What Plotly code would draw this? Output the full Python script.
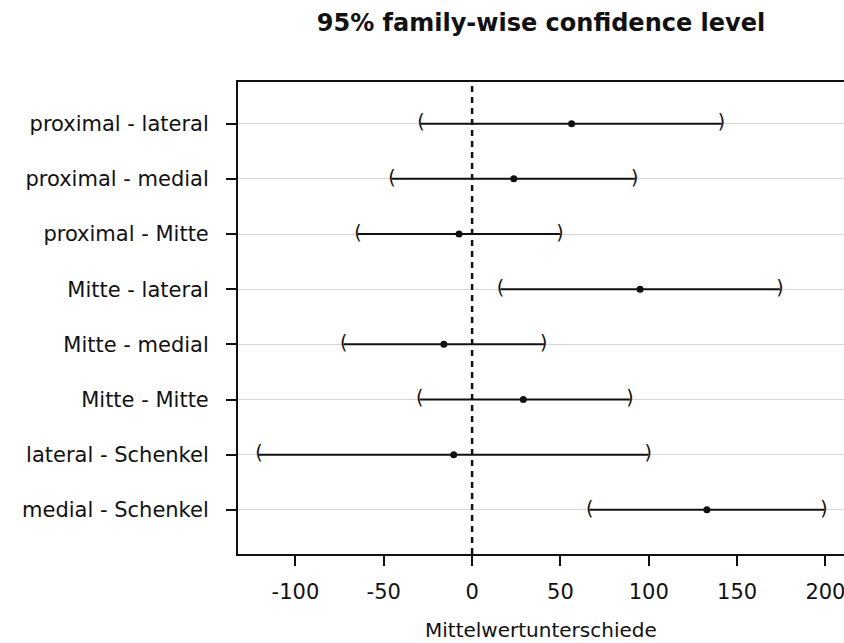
import plotly.graph_objects as go

# Pairwise comparisons (Tukey HSD), listed top to bottom
comparisons = [
    "proximal - lateral",
    "proximal - medial",
    "proximal - Mitte",
    "Mitte - lateral",
    "Mitte - medial",
    "Mitte - Mitte",
    "lateral - Schenkel",
    "medial - Schenkel",
]
diff = [56.3, 23.6, -7.4, 95.1, -16.0, 29.0, -10.4, 132.9]
lwr = [-29.0, -45.3, -64.6, 16.1, -72.6, -29.6, -120.6, 66.6]
upr = [141.2, 92.1, 49.7, 174.2, 40.6, 89.3, 99.7, 199.2]

x_ticks = [-100, -50, 0, 50, 100, 150, 200]

n = len(comparisons)
ypos = [n - i for i in range(n)]

FONT = "DejaVu Sans"
INK = "#111111"

fig = go.Figure()

# confidence interval segments
for lo, hi, y in zip(lwr, upr, ypos):
    fig.add_trace(go.Scatter(
        x=[lo, hi], y=[y, y], mode="lines",
        line=dict(color=INK, width=2), hoverinfo="skip", showlegend=False,
    ))

# interval end brackets
fig.add_trace(go.Scatter(
    x=lwr, y=ypos, mode="text", text=["("] * n, textposition="middle center",
    textfont=dict(family=FONT, size=19, color=INK), showlegend=False,
))
fig.add_trace(go.Scatter(
    x=upr, y=ypos, mode="text", text=[")"] * n, textposition="middle center",
    textfont=dict(family=FONT, size=19, color=INK), showlegend=False,
))

# mean differences
fig.add_trace(go.Scatter(
    x=diff, y=ypos, mode="markers",
    marker=dict(color=INK, size=7), showlegend=False,
))

# reference line at zero
fig.add_shape(type="line", x0=0, x1=0, xref="x", y0=0, y1=1, yref="paper",
              line=dict(color=INK, width=2.5, dash="6px,5px"))

fig.update_layout(
    width=844, height=643,
    margin=dict(l=238, r=0, t=82, b=89),
    paper_bgcolor="white", plot_bgcolor="white",
    font=dict(family=FONT, size=21, color=INK),
    title=dict(
        text="<b>95% family-wise confidence level</b>",
        font=dict(family=FONT, size=24, color=INK),
        x=541 / 844, xanchor="center", xref="container",
        y=1 - 23 / 643, yanchor="middle", yref="container",
    ),
    annotations=[dict(
        text="Mittelwertunterschiede", xref="paper", yref="paper",
        x=0.5, y=-76 / 472, xanchor="center", yanchor="middle",
        showarrow=False, font=dict(family=FONT, size=20, color=INK),
    )],
)

fig.update_xaxes(
    range=[-132.5, 210.5], tickvals=x_ticks, ticktext=[str(v) for v in x_ticks],
    showgrid=False, zeroline=False,
    showline=True, linecolor=INK, linewidth=2, mirror=True,
    ticks="outside", ticklen=10, tickwidth=2, tickcolor=INK,
    ticklabelstandoff=8, ticklabeloverflow="allow",
    tickfont=dict(family=FONT, size=21, color=INK),
)
fig.update_yaxes(
    range=[0.2, 8.756], tickvals=ypos, ticktext=comparisons,
    showgrid=True, gridcolor="#d6d6d6", gridwidth=1, zeroline=False,
    showline=True, linecolor=INK, linewidth=2, mirror=False,
    ticks="outside", ticklen=10, tickwidth=2, tickcolor=INK,
    ticklabelstandoff=13,
    tickfont=dict(family=FONT, size=21, color=INK),
)

fig.write_html("out.html")
